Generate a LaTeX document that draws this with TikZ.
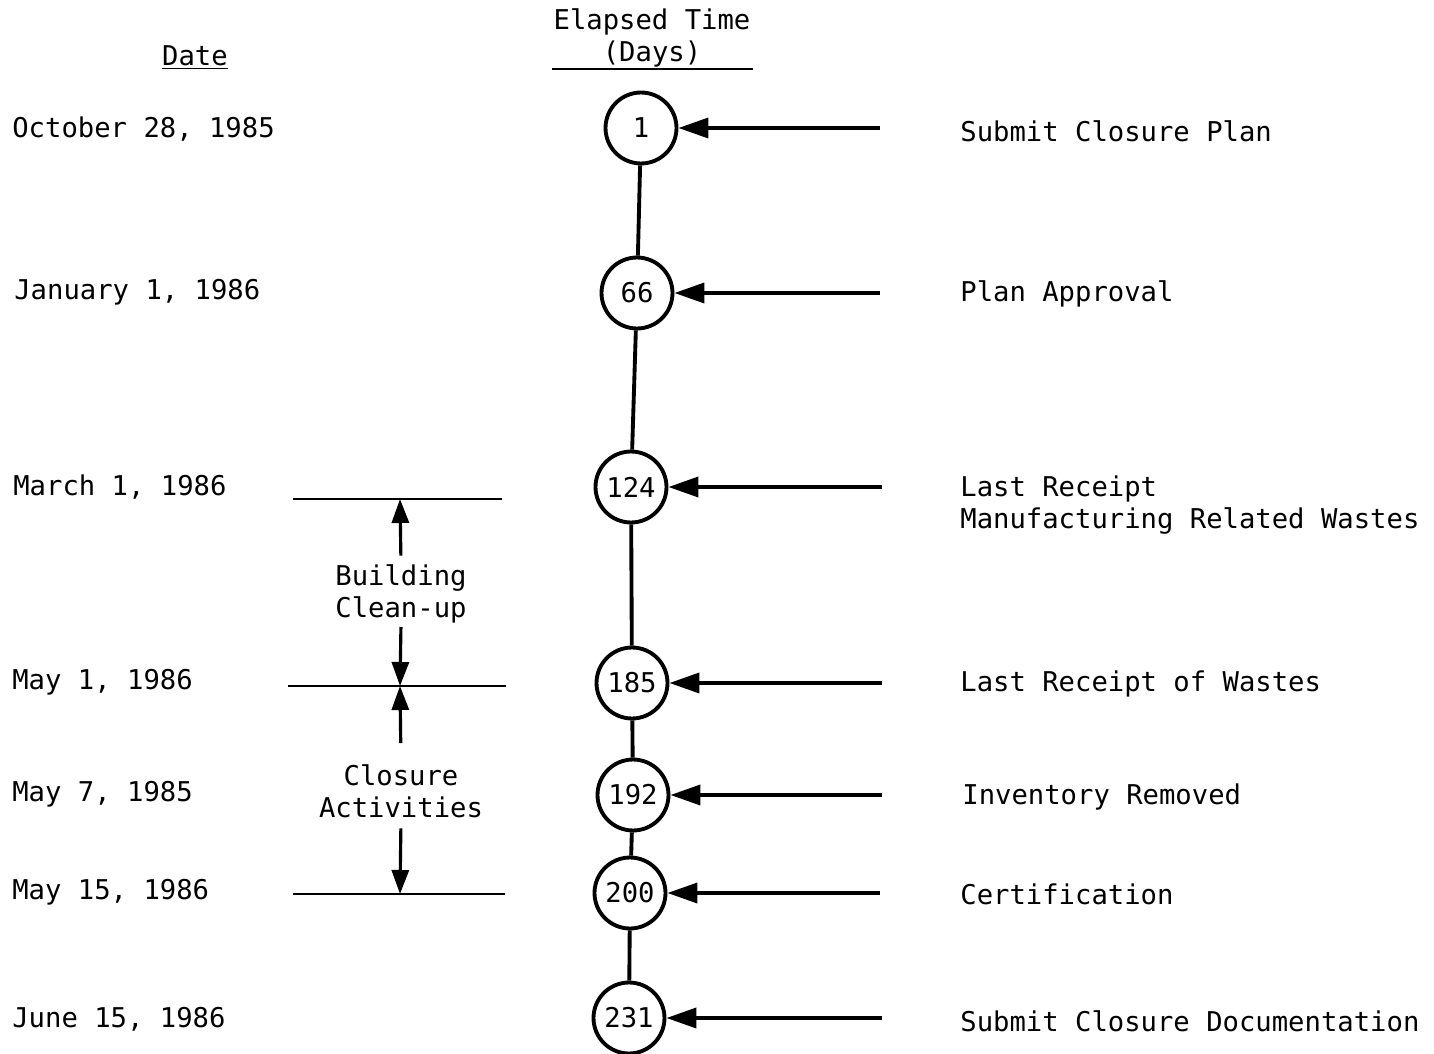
\documentclass[tikz,border=0pt]{standalone}
\usepackage{fontspec}
\setmainfont{DejaVu Sans Mono}
\usetikzlibrary{arrows.meta, positioning}

\begin{document}
\begin{tikzpicture}[
    x=0.02cm, y=-0.02cm,
    font=\fontsize{15.5}{18.1}\selectfont,
    day/.style={circle, draw, line width=2.2pt, minimum size=1.42cm, inner sep=0pt},
    datetxt/.style={anchor=west, inner sep=0pt},
    eventtxt/.style={anchor=west, inner sep=0pt, align=left},
    phase/.style={align=center, inner sep=0pt},
    feed/.style={line width=2.1pt, -{Triangle[length=0.6cm, width=0.4cm]}},
    span/.style={line width=1.8pt, -{Triangle[length=0.48cm, width=0.34cm]}},
    tickline/.style={line width=1.5pt}
]
    \useasboundingbox (0,0) rectangle (1434,1054);

    % headings
    \node (datehd) at (195,58) {\underline{Date}};
    \node[phase] (elapsed) at (652,38) {Elapsed Time\\(Days)};
    \draw[tickline] (552,69) -- (753,69);

    % dates
    \node[datetxt] (d1) at (12,129) {October 28, 1985};
    \node[datetxt] (d66) at (14,292) {January 1, 1986};
    \node[datetxt] (d124) at (13,487) {March 1, 1986};
    \node[datetxt] (d185) at (12,682) {May 1, 1986};
    \node[datetxt] (d192) at (12,794) {May 7, 1985};
    \node[datetxt] (d200) at (12,892) {May 15, 1986};
    \node[datetxt] (d231) at (12,1019) {June 15, 1986};

    % elapsed days
    \node[day] (t1) at (641,128) {1};
    \node[day] (t66) at (637,293) {66};
    \node[day] (t124) at (631,487) {124};
    \node[day] (t185) at (632,683) {185};
    \node[day] (t192) at (633,795) {192};
    \node[day] (t200) at (630,893) {200};
    \node[day] (t231) at (629,1018) {231};
    \draw[line width=2.2pt] (t1) -- (t66) -- (t124) -- (t185) -- (t192) -- (t200) -- (t231);

    % events
    \node[eventtxt] (e1) at (960,131) {Submit Closure Plan};
    \node[eventtxt] (e66) at (960,294) {Plan Approval};
    \node[eventtxt] (e124) at (960,505) {Last Receipt\\Manufacturing Related Wastes};
    \node[eventtxt] (e185) at (960,684) {Last Receipt of Wastes};
    \node[eventtxt] (e192) at (962,797) {Inventory Removed};
    \node[eventtxt] (e200) at (960,894) {Certification};
    \node[eventtxt] (e231) at (960,1021) {Submit Closure Documentation};

    \coordinate (a1) at (880,128);
    \coordinate (a66) at (880,293);
    \coordinate (a124) at (882,487);
    \coordinate (a185) at (882,683);
    \coordinate (a192) at (882,795);
    \coordinate (a200) at (880,893);
    \coordinate (a231) at (882,1018);
    \draw[feed] (a1) -- (t1);
    \draw[feed] (a66) -- (t66);
    \draw[feed] (a124) -- (t124);
    \draw[feed] (a185) -- (t185);
    \draw[feed] (a192) -- (t192);
    \draw[feed] (a200) -- (t200);
    \draw[feed] (a231) -- (t231);

    % phases
    \draw[tickline] (293,499) -- (502,499);
    \draw[tickline] (288,686) -- (506,686);
    \draw[tickline] (293,894) -- (505,894);
    \coordinate (bctop) at (400,499);
    \coordinate (bcend) at (400,686);
    \coordinate (cabeg) at (400,686);
    \coordinate (caend) at (400,894);

    \node[phase] (bcl) at (401,594) {Building\\Clean-up};
    \node[phase] (cal) at (401,791) {Closure\\Activities};
    \draw[span, shorten <=5pt] (bcl.north) -- (bctop);
    \draw[span, shorten <=2pt] (bcl.south) -- (bcend);
    \draw[span, shorten <=12pt] (cal.north) -- (cabeg);
    \draw[span, shorten <=6pt] (cal.south) -- (caend);
\end{tikzpicture}
\end{document}
